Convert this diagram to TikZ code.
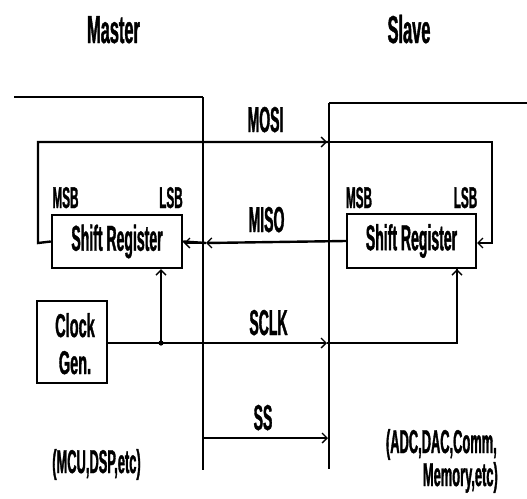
\documentclass[tikz,border=0pt]{standalone}
\usepackage{fontspec}
\usetikzlibrary{arrows.meta}
\newfontfamily\lab[FakeStretch=0.39,FakeBold=1]{Liberation Sans Bold}
\newfontfamily\labw[FakeStretch=0.44,FakeBold=1]{Liberation Sans Bold}
\newfontfamily\ttl[FakeStretch=0.42,FakeBold=1]{Liberation Sans Bold}
\begin{document}
\begin{tikzpicture}[x=1pt,y=-1pt,
  sig/.style={line width=2.4pt},
  bnd/.style={line width=1.7pt},
  tip/.style={-{Straight Barb[length=5pt,width=10pt,line width=1.3pt]}},
  boxst/.style={draw,line width=2.4pt,rectangle,inner sep=0pt,font=\lab\fontsize{36}{32}\selectfont},
  txt/.style={inner sep=0pt,font=\lab\fontsize{36}{36}\selectfont},
  clktxt/.style={inner sep=0pt,font=\labw\fontsize{33}{33}\selectfont},
  small/.style={inner sep=0pt,font=\lab\fontsize{30}{30}\selectfont},
  note/.style={inner sep=0pt,font=\lab\fontsize{33}{33}\selectfont},
  title/.style={inner sep=0pt,font=\ttl\fontsize{39}{39}\selectfont}]
\useasboundingbox (0,0) rectangle (527,498);
% titles
\node[title,anchor=base] (tm) at (113.5,43) {Master};
\node[title,anchor=base] (ts) at (409,43) {Slave};
% boundaries
\coordinate (mb1) at (14,97);
\coordinate (mb2) at (203,97);
\coordinate (mb3) at (203,470);
\draw[sig] (mb1) -- (mb2);
\draw[bnd] (mb2) -- (mb3);
\coordinate (sb1) at (527,103);
\coordinate (sb2) at (329,103);
\coordinate (sb3) at (329,469);
\draw[sig] (sb1) -- (sb2);
\draw[bnd] (sb2) -- (sb3);
% shift registers
\node[boxst,minimum width=130pt,minimum height=53pt] (mSR) at (117,241.5) {Shift Register};
\node[boxst,minimum width=129pt,minimum height=54pt] (sSR) at (411.5,241) {Shift Register};
\node[small,anchor=base] (mmsb) at (65.5,208) {MSB};
\node[small,anchor=base] (mlsb) at (171,208) {LSB};
\node[small,anchor=base] (smsb) at (359,208) {MSB};
\node[small,anchor=base] (slsb) at (465.5,208) {LSB};
% clock gen
\node[draw,line width=2.4pt,rectangle,minimum width=70pt,minimum height=82pt] (clk) at (72,342) {};
\node[clktxt,anchor=base] (clkA) at (75,337) {Clock};
\node[clktxt,anchor=base] (clkB) at (75,374) {Gen.};
% MOSI
\coordinate (mosiL) at (38,243);
\coordinate (mosiT) at (38,142);
\coordinate (mosiS) at (327,142);
\coordinate (mosiR) at (492,142);
\coordinate (mosiE) at (477,243);
\draw[sig] (mSR.west) -- (mosiL) -- (mosiT) -- (329,142);
\draw[sig,tip] (mosiT) -- (mosiS);
\draw[sig] (mosiS) -- (mosiR) -- (492,243) -- (478,243);
\draw[sig,tip] (492,243) -- (mosiE);
\node[txt,anchor=base] (mosi) at (265.5,132) {MOSI};
% MISO
\coordinate (misoB) at (206,243);
\coordinate (misoM) at (184,243);
\draw[sig,tip] (sSR.west) -- (misoB);
\draw[sig] (misoB) -- (mSR.east);
\draw[sig,tip] (misoB) -- (misoM);
\node[txt,anchor=base] (miso) at (266.5,232) {MISO};
% SCLK
\coordinate (junc) at (161,343);
\coordinate (sclkS) at (327,343);
\coordinate (sclkR) at (457,343);
\draw[sig,tip] (clk.east |- junc) -- (sclkS);
\draw[sig] (sclkS) -- (sclkR) -- (sclkR |- sSR.south);
\draw[sig,tip] (sclkR) -- (sclkR |- sSR.south);
\draw[line width=1.3pt,tip] (junc) -- (junc |- mSR.south);
\fill (junc) circle (2.6pt);
\node[txt,anchor=base] (sclk) at (268.5,335) {SCLK};
% SS
\coordinate (ssM) at (203,438);
\coordinate (ssS) at (328,438);
\draw[sig,tip] (ssM) -- (ssS);
\node[txt,anchor=base] (ss) at (263,430) {SS};
% notes
\node[note,anchor=base] (mcu) at (96.5,473) {(MCU,DSP,etc)};
\node[note,anchor=base east] (adc1) at (497,453) {(ADC,DAC,Comm,};
\node[note,anchor=base east] (adc2) at (498,486) {Memory,etc)};
\end{tikzpicture}
\end{document}
